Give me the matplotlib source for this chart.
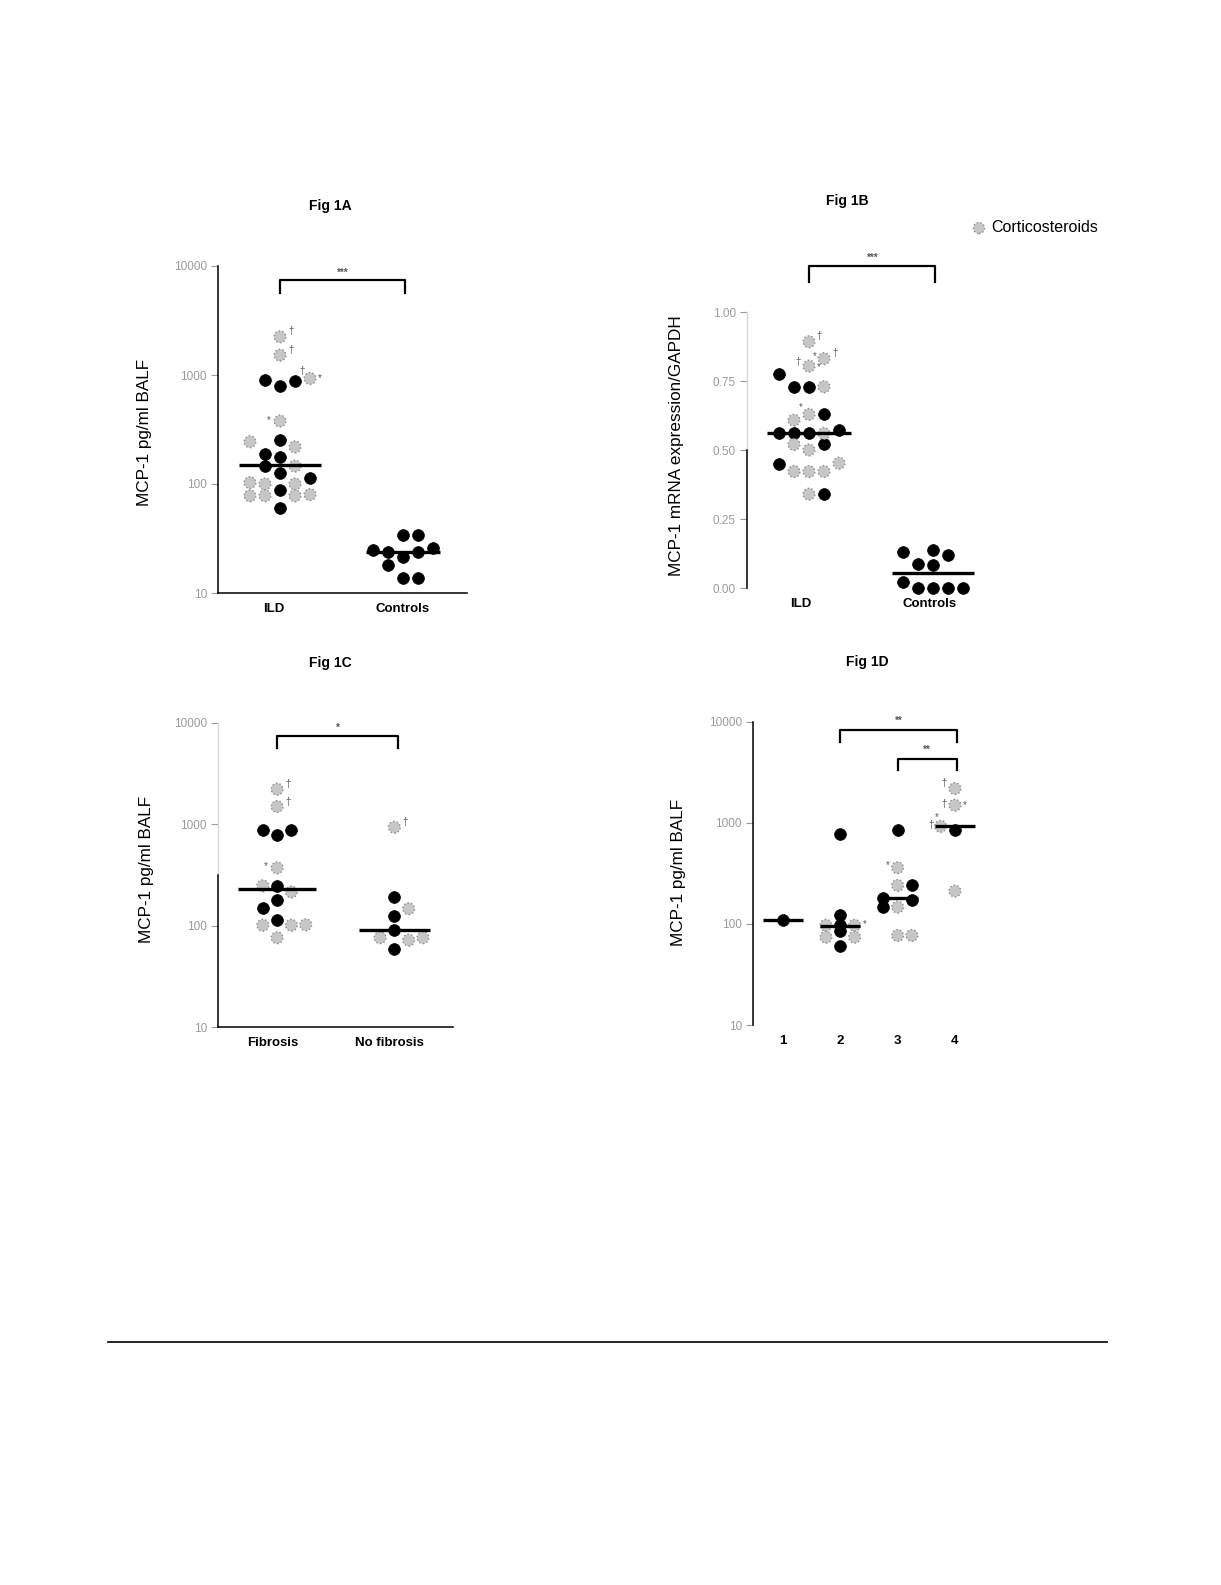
import numpy as np
import matplotlib.pyplot as plt
from matplotlib.lines import Line2D

plt.rcParams['font.family'] = ['Liberation Sans', 'DejaVu Sans']

W, H = 1221, 1585

# ---- data ----
# Fig 1A: MCP-1 pg/ml BALF, ILD vs controls
a_ild_val = [2240, 1520, 900, 790, 890, 930, 378, 244, 251, 219, 190, 178, 146, 146,
             125, 113, 103, 100, 100, 88, 78, 78, 78, 80, 60]
a_ild_col = [0, 0, -1, 0, 1, 2, 0, -2, 0, 1, -1, 0, -1, 1, 0, 2, -2, -1, 1, 0, -2, -1, 1, 2, 0]
a_ild_ster = [1, 1, 0, 0, 0, 1, 1, 1, 0, 1, 0, 0, 0, 1, 0, 0, 1, 1, 1, 0, 1, 1, 1, 1, 0]
a_ctl_val = [34, 34, 24.6, 24, 21.4, 24, 25.7, 18, 13.8, 13.8]
a_ctl_col = [0, 1, -2, -1, 0, 1, 2, -1, 0, 1]
a_medians = [148, 24]

# Fig 1B: MCP-1 mRNA expression / GAPDH
b_ild_val = [0.892, 0.831, 0.804, 0.777, 0.729, 0.729, 0.729, 0.629, 0.629, 0.608, 0.560,
             0.560, 0.560, 0.560, 0.572, 0.520, 0.520, 0.500, 0.448, 0.422, 0.422, 0.422,
             0.452, 0.340, 0.340]
b_ild_col = [0, 1, 0, -2, -1, 0, 1, 0, 1, -1, -2, -1, 0, 1, 2, -1, 1, 0, -2, -1, 0, 1, 2, 0, 1]
b_ild_ster = [1, 1, 1, 0, 0, 0, 1, 1, 0, 1, 0, 0, 0, 1, 0, 1, 0, 1, 0, 1, 1, 1, 1, 1, 0]
b_ctl_val = [0.129, 0.139, 0.120, 0.088, 0.082, 0.022, 0.0, 0.0, 0.0, 0.0]
b_ctl_col = [-2, 0, 1, -1, 0, -2, -1, 0, 1, 2]
b_medians = [0.56, 0.054]

# Fig 1C: fibrosis vs no fibrosis
c_fib_val = [2220, 1497, 880, 784, 880, 372, 247, 247, 215, 181, 151, 113, 101, 101, 102, 76]
c_fib_col = [0, 0, -1, 0, 1, 0, -1, 0, 1, 0, -1, 0, -1, 1, 2, 0]
c_fib_ster = [1, 1, 0, 0, 0, 1, 1, 0, 1, 0, 0, 0, 1, 1, 1, 1]
c_nof_val = [935, 192, 147, 125, 91, 76, 72, 76, 59]
c_nof_col = [0, 0, 1, 0, 0, -1, 1, 2, 0]
c_nof_ster = [1, 0, 1, 0, 0, 1, 1, 1, 0]
c_medians = [232, 90]

# Fig 1D: groups 1-4
d_groups = [1, 2, 3, 4]
d_val = [[110],
         [783, 122, 97, 97, 97, 74, 86, 74, 60],
         [859, 361, 241, 241, 182, 171, 147, 147, 77, 77],
         [2190, 1500, 927, 845, 212]]
d_col = [[0],
         [0, 0, -1, 0, 1, -1, 0, 1, 0],
         [0, 0, 0, 1, -1, 1, -1, 0, 0, 1],
         [0, 0, -1, 0, 0]]
d_ster = [[0],
          [0, 0, 1, 0, 1, 1, 0, 1, 0],
          [0, 1, 1, 0, 0, 0, 0, 1, 1, 1],
          [1, 1, 1, 0, 1]]
d_medians = [110, 95, 180, 927]

GRAY_FC = '#c6c6c6'
GRAY_EC = '#8c8c8c'
TICK_C = '#9a9a9a'
DOT_S = 72


def px_axes(left, right, top, bottom):
    return fig.add_axes([left / W, 1 - bottom / H, (right - left) / W, (bottom - top) / H])


def dots(ax, x0, vals, cols, ster, step):
    vals = np.array(vals, dtype=float)
    xs = x0 + np.array(cols) * step
    ster = np.array(ster, dtype=bool)
    if (~ster).any():
        ax.scatter(xs[~ster], vals[~ster], s=DOT_S, c='black', edgecolors='black',
                   linewidths=0.5, zorder=3, clip_on=False)
    if ster.any():
        ax.scatter(xs[ster], vals[ster], s=DOT_S, c=GRAY_FC, edgecolors=GRAY_EC,
                   linewidths=1.0, linestyles=':', zorder=3, clip_on=False)


def median(ax, x0, m, half):
    ax.plot([x0 - half, x0 + half], [m, m], color='black', lw=2.4, zorder=4,
            solid_capstyle='butt', clip_on=False)


def bracket(ax, x1, x2, top, bot, txt, ty):
    ax.plot([x1, x1, x2, x2], [bot, top, top, bot], color='black', lw=1.6, clip_on=False)
    ax.text((x1 + x2) / 2, ty, txt, ha='center', va='center', fontsize=7, color='#555555',
            fontweight='bold')


def mark(ax, x, y, txt, dx, dy, size=7):
    ax.annotate(txt, (x, y), xytext=(dx, dy), textcoords='offset points', ha='center',
                va='center', fontsize=size, color='#555555')


def style(ax, xaxis=True):
    for s in ['top', 'right']:
        ax.spines[s].set_visible(False)
    ax.spines['left'].set_linewidth(1.1)
    ax.spines['bottom'].set_linewidth(1.1)
    ax.spines['bottom'].set_visible(xaxis)
    ax.tick_params(axis='y', which='major', length=5, width=0.8, color=TICK_C,
                   labelsize=8.5, labelcolor=TICK_C, pad=3)
    ax.tick_params(axis='y', which='minor', length=0)
    ax.tick_params(axis='x', length=0, labelsize=9.5, pad=7)
    for lab in ax.get_xticklabels():
        lab.set_fontweight('bold')


fig = plt.figure(figsize=(W / 100, H / 100), dpi=100)

# ---------- Fig 1A ----------
ax = px_axes(218, 467, 266, 593)
ax.set_yscale('log')
ax.set_ylim(10, 10000)
ax.set_xlim(0.496, 2.52)
dots(ax, 1, a_ild_val, a_ild_col, a_ild_ster, 0.122)
dots(ax, 2, a_ctl_val, a_ctl_col, [0] * len(a_ctl_val), 0.122)
median(ax, 1, a_medians[0], 0.33)
median(ax, 2, a_medians[1], 0.3)
bracket(ax, 1, 2.02, 7450, 5600, '***', 8600)
mark(ax, 1, 2240, '†', 8, 4)
mark(ax, 1, 1520, '†', 8, 4)
mark(ax, 1.244, 930, '†', -6, 5)
mark(ax, 1.244, 930, '*', 7, 0)
mark(ax, 1, 378, '*', -8, 1)
ax.set_yticks([10, 100, 1000, 10000])
ax.set_yticklabels(['10', '100', '1000', '10000'])
ax.set_xticks([0.95, 2.0])
ax.set_xticklabels(['ILD', 'Controls'])
style(ax)

# ---------- Fig 1B ----------
ax = px_axes(747, 997, 312, 588)
ax.set_ylim(0, 1.0)
ax.set_xlim(0.5, 2.516)
dots(ax, 1, b_ild_val, b_ild_col, b_ild_ster, 0.121)
dots(ax, 2, b_ctl_val, b_ctl_col, [0] * len(b_ctl_val), 0.121)
median(ax, 1, b_medians[0], 0.34)
median(ax, 2, b_medians[1], 0.33)
bracket(ax, 1, 2.02, 1.165, 1.108, '***', 1.195)
mark(ax, 1, 0.892, '†', 7, 4)
mark(ax, 1.121, 0.831, '†', 8, 4)
mark(ax, 1.121, 0.831, '*', -7, 2)
mark(ax, 1, 0.804, '†', -8, 3)
mark(ax, 1, 0.804, '*', 7, -1)
mark(ax, 1, 0.629, '*', -6, 5)
ax.set_yticks([0, 0.25, 0.5, 0.75, 1.0])
ax.set_yticklabels(['0.00', '0.25', '0.50', '0.75', '1.00'])
ax.set_xticks([0.93, 1.97])
ax.set_xticklabels(['ILD', 'Controls'])
style(ax, xaxis=False)
ax.spines['left'].set_visible(False)
yt = ax.get_yaxis_transform()
ax.plot([0, 0], [0.5, 1.0], color='#d8d8d8', lw=1.0, transform=yt, clip_on=False)
ax.plot([0, 0], [0, 0.5], color='black', lw=1.1, transform=yt, clip_on=False)

# ---------- Fig 1C ----------
ax = px_axes(218, 453, 723, 1027)
ax.set_yscale('log')
ax.set_ylim(10, 10000)
ax.set_xlim(0.496, 2.5)
dots(ax, 1, c_fib_val, c_fib_col, c_fib_ster, 0.122)
dots(ax, 2, c_nof_val, c_nof_col, c_nof_ster, 0.122)
median(ax, 1, c_medians[0], 0.33)
median(ax, 2, c_medians[1], 0.3)
bracket(ax, 1, 2.03, 7380, 5620, '*', 9000)
mark(ax, 1, 2220, '†', 8, 4)
mark(ax, 1, 1497, '†', 8, 3)
mark(ax, 1, 372, '*', -8, 1)
mark(ax, 2, 935, '†', 8, 4)
ax.set_yticks([10, 100, 1000, 10000])
ax.set_yticklabels(['10', '100', '1000', '10000'])
ax.set_xticks([0.96, 1.96])
ax.set_xticklabels(['Fibrosis', 'No fibrosis'])
style(ax)
ax.spines['left'].set_visible(False)
yt = ax.get_yaxis_transform()
ax.plot([0, 0], [316, 10000], color='#d8d8d8', lw=1.0, transform=yt, clip_on=False)
ax.plot([0, 0], [10, 316], color='black', lw=1.1, transform=yt, clip_on=False)

# ---------- Fig 1D ----------
ax = px_axes(753, 1010, 722, 1025)
ax.set_yscale('log')
ax.set_ylim(10, 10000)
ax.set_xlim(0.478, 4.96)
for g, v, c, st, m in zip(d_groups, d_val, d_col, d_ster, d_medians):
    dots(ax, g, v, c, st, 0.25)
    median(ax, g, m, 0.35)
bracket(ax, 2, 4.03, 8260, 6310, '**', 10300)
bracket(ax, 3, 4.03, 4340, 3310, '**', 5300)
mark(ax, 4, 2190, '†', -8, 4)
mark(ax, 4, 1500, '†', -8, 1)
mark(ax, 4, 1500, '*', 7, 0)
mark(ax, 3.75, 927, '†', -7, 1)
mark(ax, 3.75, 927, '*', -3, 7)
mark(ax, 3, 361, '*', -7, 2)
mark(ax, 2.25, 97, '*', 7, 1)
ax.set_yticks([10, 100, 1000, 10000])
ax.set_yticklabels(['10', '100', '1000', '10000'])
ax.set_xticks(d_groups)
ax.set_xticklabels([str(g) for g in d_groups])
style(ax, xaxis=False)

# ---------- titles, y labels, legend ----------
fig.text(330 / W, 1 - 206 / H, 'Fig 1A', ha='center', va='center', fontsize=10, fontweight='bold')
fig.text(847 / W, 1 - 201 / H, 'Fig 1B', ha='center', va='center', fontsize=10, fontweight='bold')
fig.text(330 / W, 1 - 663 / H, 'Fig 1C', ha='center', va='center', fontsize=10, fontweight='bold')
fig.text(867 / W, 1 - 662 / H, 'Fig 1D', ha='center', va='center', fontsize=10, fontweight='bold')

fig.text(144 / W, 1 - 432 / H, 'MCP-1 pg/ml BALF', rotation=90, ha='center', va='center',
         fontsize=12.3)
fig.text(676 / W, 1 - 446 / H, 'MCP-1 mRNA expression/GAPDH', rotation=90, ha='center',
         va='center', fontsize=12.3)
fig.text(146 / W, 1 - 869 / H, 'MCP-1 pg/ml BALF', rotation=90, ha='center', va='center',
         fontsize=12.3)
fig.text(678 / W, 1 - 872 / H, 'MCP-1 pg/ml BALF', rotation=90, ha='center', va='center',
         fontsize=12.3)

# legend marker for corticosteroid-treated patients
lax = px_axes(969, 989, 218, 238)
lax.set_xlim(-1, 1)
lax.set_ylim(-1, 1)
lax.axis('off')
lax.scatter([0], [0], s=64, c=GRAY_FC, edgecolors=GRAY_EC, linewidths=1.0, linestyles=':',
            clip_on=False)
fig.text(991 / W, 1 - 228 / H, 'Corticosteroids', ha='left', va='center', fontsize=11.5)

# horizontal rule near page bottom
fig.add_artist(Line2D([108 / W, 1107 / W], [1 - 1342 / H, 1 - 1342 / H], color='black',
                      lw=1.2, transform=fig.transFigure))

fig.savefig('out.png', dpi=100, facecolor='white')
